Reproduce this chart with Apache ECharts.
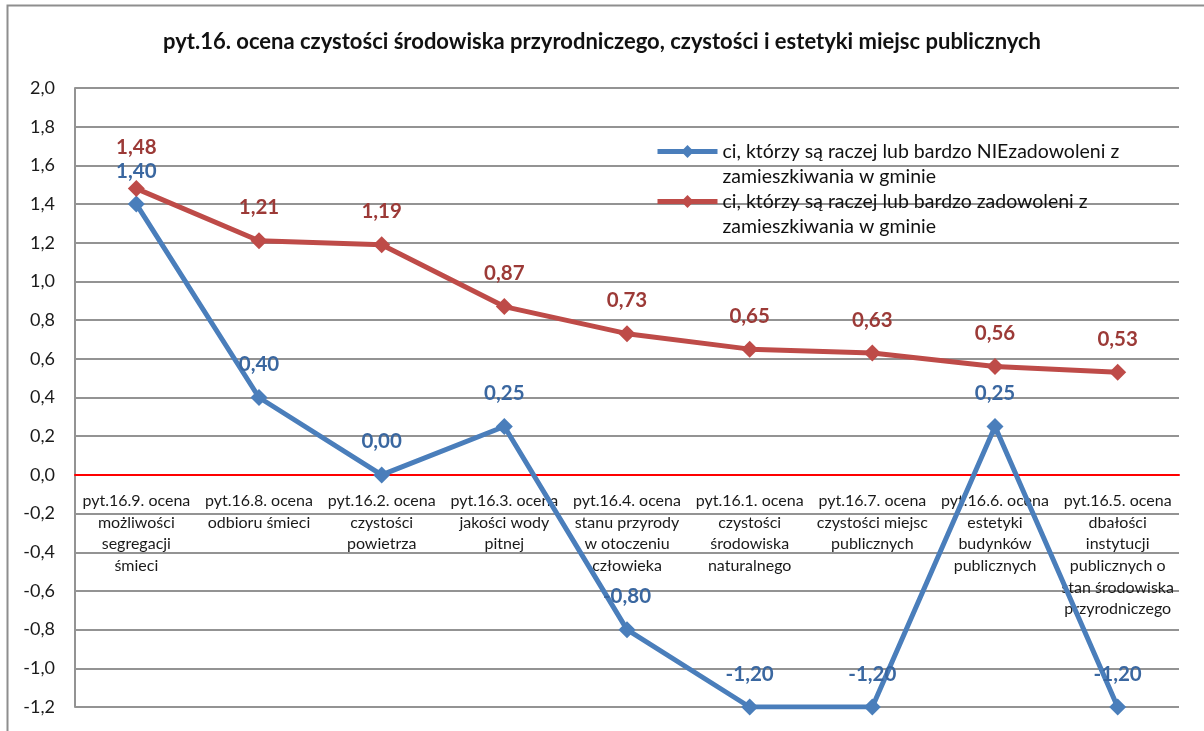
<!DOCTYPE html>
<html>
<head>
<meta charset="utf-8">
<script src="https://cdn.jsdelivr.net/npm/echarts@6/dist/echarts.min.js"></script>
<style>
  html, body { margin: 0; padding: 0; background: #ffffff; }
  #chart { width: 1204px; height: 731px; }
</style>
</head>
<body>
<div id="chart"></div>
<script>
// Survey question 16: mean ratings of cleanliness and aesthetics
const titleText = 'pyt.16. ocena czystości środowiska przyrodniczego, czystości i estetyki miejsc publicznych';

const categories = [
  'pyt.16.9. ocena\nmożliwości\nsegregacji\nśmieci',
  'pyt.16.8. ocena\nodbioru śmieci',
  'pyt.16.2. ocena\nczystości\npowietrza',
  'pyt.16.3. ocena\njakości wody\npitnej',
  'pyt.16.4. ocena\nstanu przyrody\nw otoczeniu\nczłowieka',
  'pyt.16.1. ocena\nczystości\nśrodowiska\nnaturalnego',
  'pyt.16.7. ocena\nczystości miejsc\npublicznych',
  'pyt.16.6. ocena\nestetyki\nbudynków\npublicznych',
  'pyt.16.5. ocena\ndbałości\ninstytucji\npublicznych o\nstan środowiska\nprzyrodniczego'
];

const dissatisfiedName = 'ci, którzy są raczej lub bardzo NIEzadowoleni z zamieszkiwania w gminie';
const dissatisfiedValues = [1.40, 0.40, 0.00, 0.25, -0.80, -1.20, -1.20, 0.25, -1.20];

const satisfiedName = 'ci, którzy są raczej lub bardzo zadowoleni z zamieszkiwania w gminie';
const satisfiedValues = [1.48, 1.21, 1.19, 0.87, 0.73, 0.65, 0.63, 0.56, 0.53];

const yMin = -1.2, yMax = 2.0, yStep = 0.2;

const FONT = 'Lato, "Open Sans", sans-serif';
const comma = (v, d) => v.toFixed(d).replace('.', ',');

// plot box
const W = 1204, H = 731;
const gridBox = { left: 75, right: 25, top: 88, bottom: 24 };
const plotH = H - gridBox.top - gridBox.bottom;
// the category axis sits on the zero line
const zeroOffset = -plotH * (0 - yMin) / (yMax - yMin);

// legend entry: wrapped after "z"; the leading blank line keeps the
// marker level with the first text line
const legendText = name => '\n' + name.replace(' z zamieszkiwania', ' z\nzamieszkiwania');

// raised labels for points whose labels would otherwise collide
const liftedLabels = { satisfied: [0] };

const lineSeries = (name, values, lineColor, labelColor, lifted) => ({
  name: name,
  type: 'line',
  data: values.map((v, i) =>
    lifted.includes(i) ? { value: v, label: { distance: 22 } } : v),
  symbol: 'diamond',
  symbolSize: 17,
  lineStyle: { color: lineColor, width: 5 },
  itemStyle: { color: lineColor },
  label: {
    show: true,
    position: 'top',
    distance: 14,
    color: labelColor,
    fontFamily: FONT,
    fontWeight: 'bold',
    fontSize: 20.5,
    formatter: p => comma(p.value, 2)
  },
  emphasis: { disabled: true },
  animation: false
});

const chart = echarts.init(document.getElementById('chart'), null, { renderer: 'canvas' });
chart.setOption({
  backgroundColor: '#ffffff',
  animation: false,
  title: {
    text: titleText,
    left: 'center',
    top: 26,
    textStyle: { fontFamily: FONT, fontWeight: 'bold', fontSize: 22, color: '#111111' }
  },
  graphic: [{
    type: 'rect',
    left: 5, top: 3,
    shape: { width: 1260, height: 800 },
    style: { fill: 'none', stroke: '#8e8e8e', lineWidth: 2 },
    silent: true
  }],
  legend: {
    left: 655,
    top: 114,
    padding: 0,
    orient: 'vertical',
    itemWidth: 60,
    itemHeight: 16,
    itemGap: -25,
    formatter: legendText,
    lineStyle: { width: 5 },
    textStyle: {
      fontFamily: FONT,
      fontSize: 19.5,
      color: '#111111',
      lineHeight: 25
    },
    data: [dissatisfiedName, satisfiedName]
  },
  grid: {
    left: gridBox.left, right: gridBox.right, top: gridBox.top, bottom: gridBox.bottom,
    outerBoundsMode: 'none',
    containLabel: false
  },
  xAxis: {
    type: 'category',
    data: categories,
    boundaryGap: true,
    offset: zeroOffset,
    axisLine: { onZero: false, lineStyle: { color: '#ff0000', width: 2 } },
    axisTick: { show: false },
    axisLabel: {
      interval: 0,
      margin: 15,
      fontFamily: FONT,
      fontSize: 16,
      lineHeight: 21.7,
      color: '#1a1a1a',
      align: 'center'
    },
    splitLine: { show: false }
  },
  yAxis: {
    type: 'value',
    min: yMin,
    max: yMax,
    interval: yStep,
    axisLine: { show: true, lineStyle: { color: '#939393', width: 2 } },
    axisTick: { show: false },
    axisLabel: {
      margin: 20,
      fontFamily: FONT,
      fontSize: 18,
      color: '#1a1a1a',
      formatter: v => comma(v, 1)
    },
    splitLine: { show: true, lineStyle: { color: '#939393', width: 2 } }
  },
  series: [
    lineSeries(dissatisfiedName, dissatisfiedValues, '#4a7ebb', '#3a67a0', []),
    lineSeries(satisfiedName, satisfiedValues, '#be4b48', '#9c3a37', liftedLabels.satisfied)
  ]
});
</script>
</body>
</html>
